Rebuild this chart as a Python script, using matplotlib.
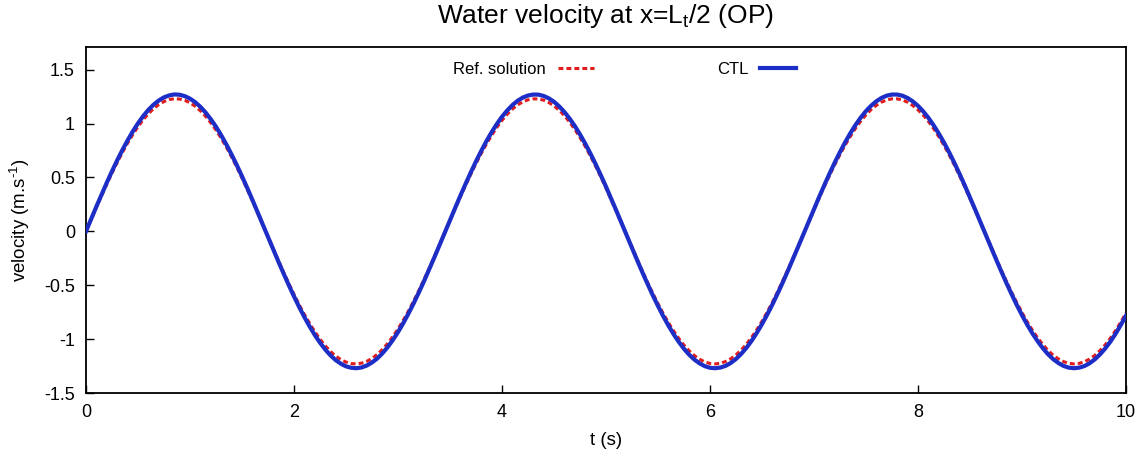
import numpy as np
import matplotlib
matplotlib.use("Agg")
import matplotlib.pyplot as plt

plt.rcParams["font.family"] = ["Liberation Sans", "DejaVu Sans"]
plt.rcParams["mathtext.default"] = "regular"
plt.rcParams["mathtext.fontset"] = "custom"
plt.rcParams["mathtext.rm"] = "Liberation Sans"

# Sampling times (s), every 0.05 s
t = np.linspace(0.0, 10.0, 201)

# Reference solution velocity (m/s)
ref_solution = [
    0.000, 0.112, 0.223, 0.331, 0.438, 0.540, 0.638, 0.731, 0.818, 0.898,
    0.971, 1.035, 1.091, 1.138, 1.176, 1.204, 1.222, 1.230, 1.227, 1.215,
    1.192, 1.160, 1.118, 1.067, 1.007, 0.939, 0.863, 0.780, 0.690, 0.595,
    0.494, 0.390, 0.283, 0.173, 0.062, -0.050, -0.162, -0.272, -0.380, -0.484,
    -0.585, -0.681, -0.771, -0.854, -0.931, -1.001, -1.061, -1.114, -1.156, -1.190,
    -1.213, -1.227, -1.230, -1.223, -1.206, -1.179, -1.142, -1.096, -1.041, -0.977,
    -0.906, -0.826, -0.740, -0.648, -0.550, -0.448, -0.342, -0.233, -0.123, -0.011,
    0.101, 0.211, 0.321, 0.427, 0.530, 0.629, 0.722, 0.809, 0.890, 0.964,
    1.029, 1.086, 1.134, 1.173, 1.201, 1.220, 1.229, 1.228, 1.217, 1.195,
    1.164, 1.123, 1.073, 1.013, 0.946, 0.870, 0.788, 0.699, 0.604, 0.505,
    0.401, 0.293, 0.184, 0.073, -0.039, -0.151, -0.261, -0.369, -0.474, -0.575,
    -0.671, -0.762, -0.847, -0.924, -0.994, -1.056, -1.109, -1.153, -1.187, -1.211,
    -1.226, -1.230, -1.224, -1.208, -1.182, -1.146, -1.101, -1.047, -0.984, -0.913,
    -0.834, -0.749, -0.657, -0.560, -0.458, -0.353, -0.244, -0.134, -0.022, 0.089,
    0.200, 0.310, 0.417, 0.520, 0.619, 0.713, 0.801, 0.882, 0.957, 1.023,
    1.081, 1.130, 1.169, 1.199, 1.219, 1.229, 1.229, 1.218, 1.198, 1.167,
    1.127, 1.078, 1.020, 0.953, 0.878, 0.797, 0.709, 0.614, 0.515, 0.411,
    0.304, 0.195, 0.084, -0.028, -0.139, -0.250, -0.358, -0.464, -0.565, -0.662,
    -0.753, -0.839, -0.917, -0.987, -1.050, -1.104, -1.149, -1.184, -1.209, -1.225,
    -1.230, -1.225, -1.210, -1.185, -1.151, -1.106, -1.053, -0.991, -0.920, -0.842,
    -0.758,
]

# CTL scheme velocity (m/s)
ctl = [
    0.000, 0.115, 0.230, 0.342, 0.452, 0.558, 0.659, 0.755, 0.844, 0.927,
    1.002, 1.069, 1.127, 1.175, 1.214, 1.243, 1.261, 1.270, 1.267, 1.254,
    1.231, 1.198, 1.155, 1.102, 1.040, 0.970, 0.891, 0.805, 0.712, 0.614,
    0.511, 0.403, 0.292, 0.178, 0.064, -0.052, -0.167, -0.281, -0.392, -0.500,
    -0.604, -0.703, -0.796, -0.882, -0.962, -1.033, -1.096, -1.150, -1.194, -1.228,
    -1.253, -1.266, -1.270, -1.263, -1.245, -1.217, -1.180, -1.132, -1.075, -1.009,
    -0.935, -0.853, -0.764, -0.669, -0.568, -0.463, -0.353, -0.241, -0.127, -0.012,
    0.104, 0.218, 0.331, 0.441, 0.547, 0.649, 0.745, 0.836, 0.919, 0.995,
    1.063, 1.121, 1.171, 1.211, 1.241, 1.260, 1.269, 1.268, 1.256, 1.234,
    1.202, 1.159, 1.107, 1.046, 0.977, 0.899, 0.814, 0.722, 0.624, 0.521,
    0.414, 0.303, 0.190, 0.075, -0.040, -0.155, -0.269, -0.381, -0.489, -0.594,
    -0.693, -0.787, -0.874, -0.954, -1.026, -1.090, -1.145, -1.190, -1.225, -1.251,
    -1.266, -1.270, -1.264, -1.248, -1.221, -1.184, -1.137, -1.081, -1.016, -0.942,
    -0.861, -0.773, -0.679, -0.578, -0.473, -0.364, -0.252, -0.138, -0.023, 0.092,
    0.207, 0.320, 0.430, 0.537, 0.639, 0.736, 0.827, 0.911, 0.988, 1.056,
    1.116, 1.166, 1.207, 1.238, 1.259, 1.269, 1.269, 1.258, 1.237, 1.205,
    1.164, 1.113, 1.053, 0.984, 0.907, 0.823, 0.732, 0.634, 0.532, 0.425,
    0.314, 0.201, 0.087, -0.029, -0.144, -0.258, -0.370, -0.479, -0.583, -0.684,
    -0.778, -0.866, -0.947, -1.019, -1.084, -1.140, -1.186, -1.222, -1.249, -1.265,
    -1.270, -1.265, -1.250, -1.224, -1.188, -1.142, -1.087, -1.023, -0.950, -0.869,
    -0.782,
]

x_ticks = [0, 2, 4, 6, 8, 10]
y_ticks = [-1.5, -1, -0.5, 0, 0.5, 1, 1.5]
y_tick_labels = ["-1.5", "-1", "-0.5", "0", "0.5", "1", "1.5"]

W, H = 1143, 455
fig = plt.figure(figsize=(W / 100, H / 100), dpi=100)
ax = fig.add_axes([86 / W, (H - 393) / H, 1040 / W, 346 / H])

ax.plot(t, ref_solution, color="#e01c1c", lw=2.2, dashes=(1.6, 1.0),
        label="Ref. solution", zorder=2)
ax.plot(t, ctl, color="#1d2ec6", lw=3.0, label="CTL", zorder=3,
        solid_joinstyle="round")

ax.set_xlim(0, 10)
ax.set_ylim(-1.5, 1.71)
ax.set_xticks(x_ticks)
ax.set_xticklabels([str(v) for v in x_ticks])
ax.set_yticks(y_ticks)
ax.set_yticklabels(y_tick_labels)

ax.tick_params(direction="in", length=6, width=1, labelsize=13,
               top=False, right=False, pad=8)
for s in ax.spines.values():
    s.set_linewidth(1.3)

ax.set_xlabel("t (s)", fontsize=13.5, labelpad=8)
ax.set_ylabel("velocity (m.s$^{\\mathrm{\u2010}1}$)", fontsize=13.5, labelpad=9)
ax.set_title("Water velocity at x=L$_t$/2 (OP)", fontsize=19, pad=17)

ax.legend(loc="center", bbox_to_anchor=(0.518, 0.936), ncol=2,
          markerfirst=False, frameon=False, fontsize=12, borderpad=0,
          handlelength=2.15, handletextpad=0.72, columnspacing=7.4)

fig.savefig("out.png", dpi=100)
